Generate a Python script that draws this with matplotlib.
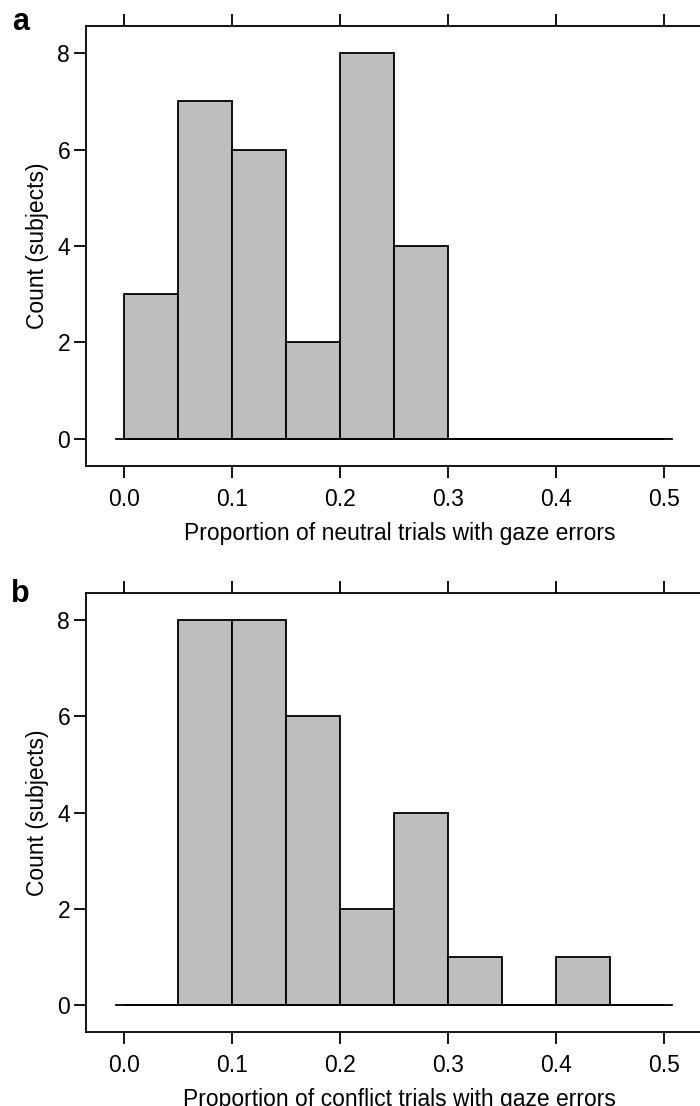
import numpy as np
import matplotlib
matplotlib.use("Agg")
import matplotlib.pyplot as plt

plt.rcParams['font.family'] = ['Liberation Sans', 'DejaVu Sans']

# histogram bins (proportion of trials), width 0.05
bin_edges = [0.0, 0.05, 0.10, 0.15, 0.20, 0.25, 0.30, 0.35, 0.40, 0.45, 0.50]

# counts of subjects per bin
neutral_counts = [3, 7, 6, 2, 8, 4, 0, 0, 0, 0]
conflict_counts = [0, 8, 8, 6, 2, 4, 1, 0, 1, 0]

panel_letters = ['a', 'b']
xlabels = ['Proportion of neutral trials with gaze errors',
           'Proportion of conflict trials with gaze errors']
xticks = [0.0, 0.1, 0.2, 0.3, 0.4, 0.5]
xticklabels = ['0.0', '0.1', '0.2', '0.3', '0.4', '0.5']
yticks = [0, 2, 4, 6, 8]

fig = plt.figure(figsize=(7, 11.06), dpi=100)

W, H = 700, 1106
xlim = (-0.035, 0.545)
ylim = (-0.56, 8.56)
left = 86.2 / W
width = (0.545 + 0.035) * 1080 / W

# (top, bottom) pixel rows of each panel box
boxes = [(26, 466), (592.7, 1032.3)]
letter_pos = [(12, 30), (11, 602.5)]

fs = 16.5
lw = 1.3
for i, counts in enumerate([neutral_counts, conflict_counts]):
    top, bot = boxes[i]
    ax = fig.add_axes([left, 1 - bot / H, width, (bot - top) / H])
    edges = np.array(bin_edges)
    ax.bar(edges[:-1], counts, width=np.diff(edges), align='edge',
           color='#bebebe', edgecolor='black', linewidth=lw, zorder=2)
    ax.plot([-0.007, 0.507], [0, 0], color='black', linewidth=lw, zorder=3)
    ax.set_xlim(*xlim)
    ax.set_ylim(*ylim)
    ax.set_xticks(xticks)
    ax.set_xticklabels(xticklabels)
    ax.set_yticks(yticks)
    ax.tick_params(axis='x', direction='out', length=8.5, width=lw,
                   top=True, bottom=True, labeltop=False, labelsize=fs, pad=7)
    ax.tick_params(axis='y', direction='out', length=8.5, width=lw,
                   left=True, right=False, labelsize=fs, pad=3)
    for s in ax.spines.values():
        s.set_linewidth(lw)
    ax.set_xlabel(xlabels[i], fontsize=fs, labelpad=8)
    ax.set_ylabel('Count (subjects)', fontsize=fs, labelpad=6)
    lx, ly = letter_pos[i]
    fig.text(lx / W, 1 - ly / H, panel_letters[i], fontsize=22,
             fontweight='bold', ha='left', va='baseline')

fig.savefig('out.png', dpi=100)
